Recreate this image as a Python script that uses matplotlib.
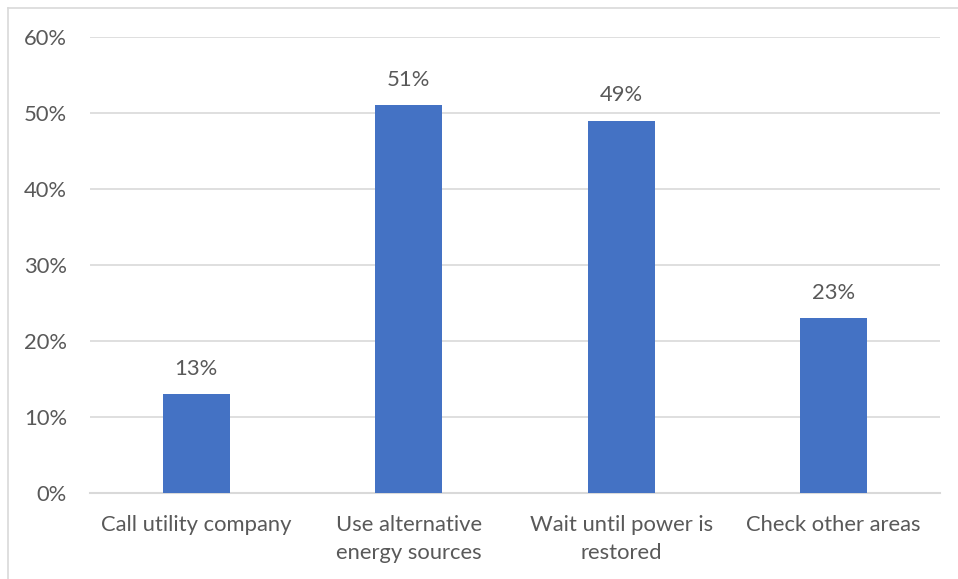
import matplotlib
matplotlib.use("Agg")
import matplotlib.pyplot as plt
from matplotlib.lines import Line2D
from matplotlib.ticker import FuncFormatter

categories = ["Call utility company", "Use alternative\nenergy sources",
              "Wait until power is\nrestored", "Check other areas"]
values = [13, 51, 49, 23]
y_ticks = [0, 10, 20, 30, 40, 50, 60]

TEXT = "#595959"
GRID = "#D9D9D9"
BAR = "#4472C4"
FONT = ["Lato", "DejaVu Sans"]
FS = 15.8

W, H = 958, 579
fig = plt.figure(figsize=(W / 100, H / 100), dpi=100)
ax = fig.add_axes([90 / W, 1 - 493 / H, 850 / W, 456 / H])

x = range(len(categories))
ax.bar(x, values, width=0.315, color=BAR, zorder=3)
ax.set_xlim(-0.5, len(categories) - 0.5)
ax.set_ylim(0, 60)
ax.set_yticks(y_ticks)
ax.yaxis.set_major_formatter(FuncFormatter(lambda v, p: f"{v:.0f}%"))
ax.set_xticks(list(x))
ax.set_xticklabels(categories, fontsize=FS, color=TEXT, family=FONT, linespacing=1.55)
for lab in ax.get_yticklabels():
    lab.set_fontsize(FS)
    lab.set_color(TEXT)
    lab.set_family(FONT)

ax.grid(axis="y", color=GRID, linewidth=1.2, zorder=0)
for s in ["top", "right", "left"]:
    ax.spines[s].set_visible(False)
ax.spines["bottom"].set_color(GRID)
ax.spines["bottom"].set_linewidth(1.5)
ax.tick_params(axis="both", length=0)
ax.tick_params(axis="y", pad=16.5)
ax.tick_params(axis="x", pad=15.5)

for xi, v in zip(x, values):
    ax.annotate(f"{v}%", (xi, v), xytext=(0, 11), textcoords="offset points",
                ha="center", va="bottom", fontsize=FS, color=TEXT, family=FONT)

# chart area border
fig.add_artist(Line2D([8 / W, 8 / W], [0, 1 - 8 / H], color=GRID, linewidth=1.2))
fig.add_artist(Line2D([8 / W, 1], [1 - 8 / H, 1 - 8 / H], color=GRID, linewidth=1.2))

fig.savefig("out.png", dpi=100, facecolor="white")
